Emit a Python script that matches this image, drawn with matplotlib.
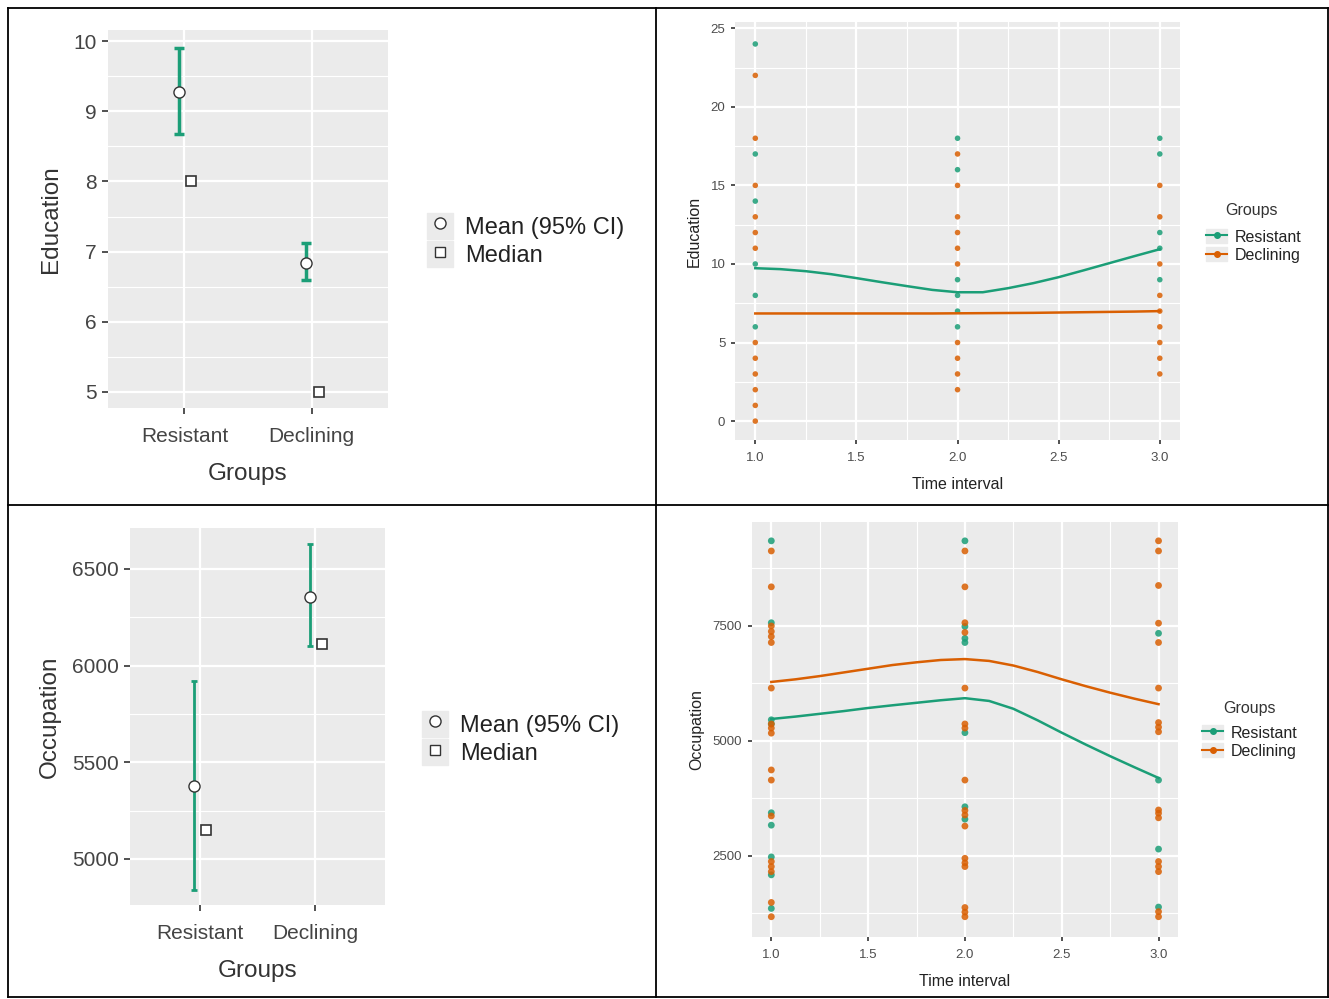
import matplotlib.pyplot as plt
from matplotlib.lines import Line2D
from matplotlib.patches import Patch
from matplotlib.legend_handler import HandlerTuple
from matplotlib.ticker import MultipleLocator

plt.rcParams['font.family'] = ['Liberation Sans', 'DejaVu Sans']

GREEN = '#1B9E77'
ORANGE = '#D95F02'
PANEL = '#EBEBEB'

groups = ['Resistant', 'Declining']

# summary panels (left)
edu_mean = [9.28, 6.84]
edu_lo = [8.67, 6.60]
edu_hi = [9.90, 7.12]
edu_median = [8, 5]

occ_mean = [5380, 6355]
occ_lo = [4840, 6100]
occ_hi = [5920, 6630]
occ_median = [5150, 6110]

# education by time interval (top right)
edu_res = {1: [24, 17, 14, 10, 8, 6],
           2: [18, 16, 9, 8, 7, 6],
           3: [18, 17, 12, 11, 9]}
edu_dec = {1: [22, 18, 15, 13, 12, 11, 5, 4, 3, 2, 1, 0],
           2: [17, 15, 13, 12, 11, 10, 5, 4, 3, 2],
           3: [15, 13, 10, 8, 7, 6, 5, 4, 3]}
smooth_x = [1.0, 1.125, 1.25, 1.375, 1.5, 1.625, 1.75, 1.875, 2.0,
            2.125, 2.25, 2.375, 2.5, 2.625, 2.75, 2.875, 3.0]
edu_res_fit = [9.73, 9.67, 9.54, 9.35, 9.10, 8.84, 8.59, 8.35, 8.20,
               8.20, 8.46, 8.78, 9.16, 9.60, 10.05, 10.50, 10.94]
edu_dec_fit = [6.85, 6.85, 6.85, 6.85, 6.85, 6.85, 6.85, 6.85, 6.86,
               6.87, 6.88, 6.89, 6.91, 6.93, 6.95, 6.97, 7.0]

# occupation by time interval (bottom right)
occ_res = {1: [9350, 7570, 5460, 5370, 3440, 3170, 2480, 2090, 1360],
           2: [9350, 7490, 7230, 7140, 5180, 3570, 3300],
           3: [7340, 4150, 2650, 1390]}
occ_dec = {1: [9130, 8350, 7500, 7380, 7270, 7140, 6150, 5370, 5280, 5170,
               4370, 4150, 3370, 2380, 2270, 2160, 1490, 1180],
           2: [9130, 8350, 7570, 7360, 6150, 5370, 5280, 4150, 3490, 3390,
               3150, 2450, 2350, 2270, 1380, 1280, 1180],
           3: [9350, 9130, 8380, 7560, 7140, 6150, 5400, 5300, 5200, 3500,
               3430, 3330, 2380, 2270, 2160, 1290, 1180]}
occ_res_fit = [5478, 5530, 5590, 5650, 5717, 5775, 5830, 5885, 5930,
               5870, 5700, 5450, 5180, 4920, 4670, 4430, 4196]
occ_dec_fit = [6283, 6340, 6410, 6490, 6570, 6650, 6710, 6760, 6780,
               6740, 6640, 6500, 6340, 6190, 6050, 5920, 5800]


def gg_style(ax, labelsize, labelcolor):
    ax.set_facecolor(PANEL)
    for s in ax.spines.values():
        s.set_visible(False)
    ax.set_axisbelow(True)
    ax.grid(which='major', color='white', lw=1.6)
    ax.grid(which='minor', color='white', lw=0.8)
    ax.tick_params(which='major', length=4, width=1.2, color='#333333',
                   labelsize=labelsize, labelcolor=labelcolor, pad=4)
    ax.tick_params(which='minor', length=0)


def summary_panel(ax, mean, lo, hi, median, ylim, major, minor, ylabel, capw, lw):
    gg_style(ax, 15, '#444444')
    ax.tick_params(axis='x', pad=10)
    xm = [i + 1 - 0.045 for i in range(len(groups))]
    xd = [i + 1 + 0.055 for i in range(len(groups))]
    err = [[m - l for m, l in zip(mean, lo)], [h - m for m, h in zip(mean, hi)]]
    ax.errorbar(xm, mean, yerr=err, fmt='none', ecolor=GREEN, elinewidth=lw,
                capsize=capw, capthick=lw, zorder=3)
    ax.plot(xm, mean, 'o', ms=8, mfc='white', mec='#333333', mew=1, zorder=4)
    ax.plot(xd, median, 's', ms=7.5, mfc='white', mec='#333333', mew=1.2, zorder=4)
    ax.set_xlim(0.4, 2.6)
    ax.set_ylim(*ylim)
    ax.set_xticks([1, 2])
    ax.set_xticklabels(groups)
    ax.yaxis.set_major_locator(MultipleLocator(major))
    ax.yaxis.set_minor_locator(MultipleLocator(minor))
    ax.set_xlabel('Groups', fontsize=17.5, color='#333333', labelpad=12)
    ax.set_ylabel(ylabel, fontsize=17.5, color='#333333', labelpad=8)


def scatter_panel(ax, res, dec, res_fit, dec_fit, ylim, major, minor, ylabel, size):
    gg_style(ax, 9.5, '#4D4D4D')
    ax.tick_params(which='major', length=3)
    ax.tick_params(axis='x', pad=6)
    for pts, col in [(res, GREEN), (dec, ORANGE)]:
        for t, vals in pts.items():
            ax.scatter([t] * len(vals), vals, s=size, color=col, alpha=0.85,
                       edgecolors='none', zorder=3)
    ax.plot(smooth_x, res_fit, color=GREEN, lw=1.8, zorder=4)
    ax.plot(smooth_x, dec_fit, color=ORANGE, lw=1.8, zorder=4)
    ax.set_xlim(0.9, 3.1)
    ax.set_ylim(*ylim)
    ax.xaxis.set_major_locator(MultipleLocator(0.5))
    ax.xaxis.set_minor_locator(MultipleLocator(0.25))
    ax.yaxis.set_major_locator(MultipleLocator(major))
    ax.yaxis.set_minor_locator(MultipleLocator(minor))
    ax.set_xlabel('Time interval', fontsize=11.5, color='#222222', labelpad=9)
    ax.set_ylabel(ylabel, fontsize=11.5, color='#222222', labelpad=6)


fig = plt.figure(figsize=(13.29, 9.99), dpi=100)

ax1 = fig.add_axes([0.0813, 0.5916, 0.2107, 0.3784])
summary_panel(ax1, edu_mean, edu_lo, edu_hi, edu_median, (4.77, 10.16), 1, 0.5,
              'Education', 3.5, 2.5)

ax3 = fig.add_axes([0.0978, 0.0941, 0.1919, 0.3774])
summary_panel(ax3, occ_mean, occ_lo, occ_hi, occ_median, (4762, 6712), 500, 250,
              'Occupation', 2.5, 2.0)

ax2 = fig.add_axes([0.5531, 0.5596, 0.3348, 0.4184])
scatter_panel(ax2, edu_res, edu_dec, edu_res_fit, edu_dec_fit, (-1.2, 25.4), 5, 2.5,
              'Education', 16)

ax4 = fig.add_axes([0.5658, 0.0621, 0.3205, 0.4154])
scatter_panel(ax4, occ_res, occ_dec, occ_res_fit, occ_dec_fit, (740, 9760), 2500, 1250,
              'Occupation', 24)

# legends
stat_handles = [(Patch(color=PANEL), Line2D([], [], ls='', marker='o', ms=8, mfc='white',
                                             mec='#333333')),
                (Patch(color=PANEL), Line2D([], [], ls='', marker='s', ms=7.5, mfc='white',
                                             mec='#333333'))]
stat_labels = ['Mean (95% CI)', 'Median']
for xl, yc in [(406, 240), (401, 738)]:
    fig.legend(stat_handles, stat_labels, loc='center left',
               bbox_to_anchor=(xl / 1329, 1 - yc / 999), frameon=False, fontsize=17,
               handler_map={tuple: HandlerTuple(ndivide=1)}, handlelength=1.1,
               handleheight=1.3, handletextpad=0.5, labelspacing=0.1,
               labelcolor='#222222')

grp_handles = [(Patch(color=PANEL), Line2D([], [], color=c, lw=1.5, marker='o', ms=4))
               for c in (GREEN, ORANGE)]
for xl, yc, xt, yt in [(1192, 246, 1252, 211), (1188, 742, 1250, 708)]:
    fig.legend(grp_handles, groups, loc='center left',
               bbox_to_anchor=(xl / 1329, 1 - yc / 999), frameon=False, fontsize=11.5,
               handler_map={tuple: HandlerTuple(ndivide=1)},
               handlelength=1.3, handleheight=1.0, handletextpad=0.5,
               labelspacing=0.15, labelcolor='#222222')
    fig.text(xt / 1329, 1 - yt / 999, 'Groups', fontsize=11.5, color='#333333',
             ha='center', va='center')

# panel frame
frame = [((8, 8), (1328, 8)), ((8, 997), (1328, 997)), ((8, 8), (8, 997)),
         ((1328, 8), (1328, 997)), ((656, 8), (656, 997)), ((8, 505), (1328, 505))]
for (x0, y0), (x1, y1) in frame:
    fig.add_artist(Line2D([x0 / 1329, x1 / 1329], [1 - y0 / 999, 1 - y1 / 999],
                          transform=fig.transFigure, color='black', lw=1.3))

fig.savefig('out.png', dpi=100)
